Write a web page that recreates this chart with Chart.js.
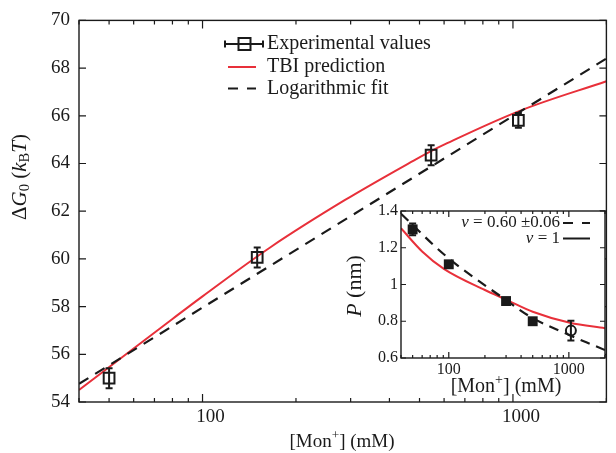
<!DOCTYPE html>
<html>
<head>
<meta charset="utf-8">
<script src="https://cdn.jsdelivr.net/npm/chart.js@4.4.1/dist/chart.umd.min.js"></script>
<style>
  html, body { margin: 0; padding: 0; background: #fff; }
  #wrap { position: relative; width: 616px; height: 453px; }
  #main { position: absolute; left: 0; top: 0; }
  #inset { position: absolute; left: 330px; top: 195px; }
</style>
</head>
<body>
<div id="wrap">
  <canvas id="main" width="616" height="453"></canvas>
  <canvas id="inset" width="286" height="215"></canvas>
</div>
<script>
// main panel: free energy vs salt
const expConc = [50, 150, 545, 1041];
const expG = [55.0, 60.06, 64.35, 65.81];
const expErr = [0.42, 0.42, 0.42, 0.31];

const tbiConc = [40, 80, 100, 166, 287, 477, 593, 1062, 2000];
const tbiG = [54.5, 57.48, 58.43, 60.5, 62.46, 64.11, 64.76, 66.23, 67.45];

const fitConc = [40, 100, 1000, 2000];
const fitG = [54.76, 57.96, 65.99, 68.4];

const xTickVals = [40, 50, 60, 70, 80, 90, 100, 200, 300, 400, 500, 600, 700, 800, 900, 1000, 2000];
const xLabelVals = [100, 1000];
const yTickVals = [54, 56, 58, 60, 62, 64, 66, 68, 70];

// inset: P vs salt
const pConc = [50, 100, 300, 500];
const pVal = [1.30, 1.11, 0.91, 0.80];
const pErr = [0.032, 0, 0, 0];
const openConc = [1040];
const openVal = [0.749];
const openErr = [0.054];

const nuFitConc = [40, 100, 300, 500, 1000, 2000];
const nuFitP = [1.385, 1.142, 0.915, 0.817, 0.726, 0.643];

const nuOneConc = [40, 60, 91, 200, 300, 500, 1020, 2000];
const nuOneP = [1.306, 1.18, 1.085, 0.97, 0.918, 0.852, 0.792, 0.762];

const insetYTicks = [0.6, 0.8, 1.0, 1.2, 1.4];

const serif = '"Liberation Serif", "DejaVu Serif", serif';
const ink = '#1a1a1a';
const red = '#e8303a';

const pts = (xs, ys) => xs.map((x, i) => ({ x: x, y: ys[i] }));

// text with italics / sub / superscripts; align 'center' or 'right' around (x, y)
function richText(ctx, parts, x, y, size, rotate, align) {
  ctx.save();
  ctx.translate(x, y);
  if (rotate) ctx.rotate(-Math.PI / 2);
  ctx.textBaseline = 'middle';
  ctx.textAlign = 'left';
  ctx.fillStyle = ink;
  const fontFor = p => (p.it ? 'italic ' : '') + ((p.sub || p.sup) ? size * 0.7 : size) + 'px ' + serif;
  let total = 0;
  parts.forEach(p => { ctx.font = fontFor(p); total += ctx.measureText(p.t).width; });
  let cx = align === 'right' ? -total : -total / 2;
  parts.forEach(p => {
    ctx.font = fontFor(p);
    const dy = p.sub ? size * 0.25 : (p.sup ? -size * 0.33 : 0);
    ctx.fillText(p.t, cx, dy);
    cx += ctx.measureText(p.t).width;
  });
  ctx.restore();
}

// box around plot area + inward ticks on all four sides
function framePlugin(xTicks, xMajors, yTicks, majLen, minLen, yLen) {
  return {
    id: 'frame',
    afterDatasetsDraw(chart) {
      const { ctx, chartArea: a, scales } = chart;
      ctx.save();
      ctx.strokeStyle = ink;
      ctx.lineWidth = 1.4;
      ctx.strokeRect(a.left, a.top, a.right - a.left, a.bottom - a.top);
      ctx.lineWidth = 1.2;
      ctx.beginPath();
      xTicks.forEach(v => {
        const px = scales.x.getPixelForValue(v);
        const l = xMajors.includes(v) ? majLen : minLen;
        ctx.moveTo(px, a.bottom); ctx.lineTo(px, a.bottom - l);
        ctx.moveTo(px, a.top); ctx.lineTo(px, a.top + l);
      });
      yTicks.forEach(v => {
        const py = scales.y.getPixelForValue(v);
        ctx.moveTo(a.left, py); ctx.lineTo(a.left + yLen, py);
        ctx.moveTo(a.right, py); ctx.lineTo(a.right - yLen, py);
      });
      ctx.stroke();
      ctx.restore();
    }
  };
}

// vertical error bars for datasets carrying an `errors` list
const errorBars = {
  id: 'errorBars',
  afterDatasetsDraw(chart) {
    const { ctx, scales } = chart;
    ctx.save();
    ctx.strokeStyle = ink;
    ctx.lineWidth = 2;
    chart.data.datasets.forEach((ds, i) => {
      if (!ds.errors) return;
      const meta = chart.getDatasetMeta(i);
      meta.data.forEach((el, j) => {
        const e = ds.errors[j];
        if (!e) return;
        const v = ds.data[j].y;
        const y1 = scales.y.getPixelForValue(v - e);
        const y2 = scales.y.getPixelForValue(v + e);
        ctx.beginPath();
        ctx.moveTo(el.x, y1); ctx.lineTo(el.x, y2);
        ctx.moveTo(el.x - 3.5, y1); ctx.lineTo(el.x + 3.5, y1);
        ctx.moveTo(el.x - 3.5, y2); ctx.lineTo(el.x + 3.5, y2);
        ctx.stroke();
      });
    });
    ctx.restore();
  }
};

const mainDecor = {
  id: 'mainDecor',
  afterDraw(chart) {
    const ctx = chart.ctx;
    const ds = chart.data.datasets;
    // legend
    ctx.save();
    ctx.strokeStyle = ink;
    ctx.lineWidth = 2;
    ctx.beginPath();
    ctx.moveTo(225, 44); ctx.lineTo(263, 44);
    ctx.moveTo(225, 40.5); ctx.lineTo(225, 47.5);
    ctx.moveTo(263, 40.5); ctx.lineTo(263, 47.5);
    ctx.stroke();
    ctx.strokeRect(238.5, 38, 12, 12);
    ctx.strokeStyle = ds[1].borderColor;
    ctx.beginPath(); ctx.moveTo(228, 67); ctx.lineTo(256, 67); ctx.stroke();
    ctx.strokeStyle = ds[2].borderColor;
    ctx.lineWidth = 2.2;
    ctx.beginPath();
    ctx.moveTo(228, 88.5); ctx.lineTo(238, 88.5);
    ctx.moveTo(247, 88.5); ctx.lineTo(256, 88.5);
    ctx.stroke();
    ctx.fillStyle = ink;
    ctx.font = '20px ' + serif;
    ctx.textBaseline = 'middle';
    ctx.fillText(ds[0].label, 267, 44);
    ctx.fillText(ds[1].label, 267, 66.5);
    ctx.fillText(ds[2].label, 267, 88.5);
    ctx.restore();
    // axis titles
    richText(ctx, [{ t: 'Δ' }, { t: 'G', it: 1 }, { t: '0', sub: 1 }, { t: ' (' }, { t: 'k', it: 1 },
      { t: 'B', sub: 1 }, { t: 'T', it: 1 }, { t: ')' }], 20, 177, 21, true);
    richText(ctx, [{ t: '[Mon' }, { t: '+', sup: 1 }, { t: '] (mM)' }], 342, 442, 19, false);
  }
};

new Chart(document.getElementById('main'), {
  type: 'line',
  data: {
    datasets: [
      {
        label: 'Experimental values', data: pts(expConc, expG), errors: expErr,
        showLine: false, pointStyle: 'rect', pointRadius: 7.6, borderWidth: 2,
        borderColor: ink, backgroundColor: 'rgba(0,0,0,0)', order: 0
      },
      {
        label: 'TBI prediction', data: pts(tbiConc, tbiG),
        borderColor: red, borderWidth: 2, pointRadius: 0, tension: 0.35, order: 2
      },
      {
        label: 'Logarithmic fit', data: pts(fitConc, fitG),
        borderColor: ink, borderWidth: 2.2, borderDash: [11, 8], pointRadius: 0, order: 1
      }
    ]
  },
  options: {
    responsive: false,
    animation: false,
    layout: { padding: { top: 20, right: 1, left: 0, bottom: 0 } },
    plugins: { legend: { display: false }, tooltip: { enabled: false } },
    scales: {
      x: {
        type: 'logarithmic', min: 40, max: 2000,
        grid: { display: false, drawTicks: false }, border: { display: false },
        afterBuildTicks: s => { s.ticks = xTickVals.map(v => ({ value: v })); },
        afterFit: s => { s.height = 51; },
        ticks: {
          autoSkip: false, maxRotation: 0, padding: 4, labelOffset: 8, color: ink,
          font: { family: serif, size: 19 },
          callback: v => xLabelVals.includes(v) ? String(v) : ''
        }
      },
      y: {
        min: 54, max: 70,
        grid: { display: false, drawTicks: false }, border: { display: false },
        afterFit: s => { s.width = 79; },
        ticks: { stepSize: 2, padding: 9, color: ink, font: { family: serif, size: 19 } }
      }
    }
  },
  plugins: [framePlugin(xTickVals, xLabelVals, yTickVals, 8, 4, 7), errorBars, mainDecor]
});

// white plot background so the inset hides what is behind it
const insetBg = {
  id: 'insetBg',
  beforeDraw(chart) {
    const { ctx, chartArea: a } = chart;
    ctx.save();
    ctx.fillStyle = '#fff';
    ctx.fillRect(a.left, a.top, a.right - a.left, a.bottom - a.top);
    ctx.restore();
  }
};

const insetDecor = {
  id: 'insetDecor',
  afterDraw(chart) {
    const ctx = chart.ctx;
    richText(ctx, [{ t: 'ν', it: 1 }, { t: ' = 0.60 ±0.06' }], 230, 28, 17, false, 'right');
    richText(ctx, [{ t: 'ν', it: 1 }, { t: ' = 1' }], 230, 43.5, 17, false, 'right');
    ctx.save();
    ctx.strokeStyle = ink;
    ctx.lineWidth = 2.2;
    ctx.beginPath();
    ctx.moveTo(233, 28); ctx.lineTo(243, 28);
    ctx.moveTo(252, 28); ctx.lineTo(260, 28);
    ctx.moveTo(233, 43.5); ctx.lineTo(260, 43.5);
    ctx.stroke();
    ctx.restore();
    richText(ctx, [{ t: 'P', it: 1 }, { t: ' (nm)' }], 25, 91, 22, true);
    richText(ctx, [{ t: '[Mon' }, { t: '+', sup: 1 }, { t: '] (mM)' }], 176, 192, 20, false);
  }
};

new Chart(document.getElementById('inset'), {
  type: 'line',
  data: {
    datasets: [
      {
        label: 'salt series', data: pts(pConc, pVal), errors: pErr,
        showLine: false, pointStyle: 'rect', pointRadius: 7, borderWidth: 0,
        backgroundColor: ink, borderColor: ink, order: 0
      },
      {
        label: 'high salt', data: pts(openConc, openVal), errors: openErr,
        showLine: false, pointStyle: 'circle', pointRadius: 5, borderWidth: 2,
        backgroundColor: 'rgba(0,0,0,0)', borderColor: ink, order: 0
      },
      {
        label: 'ν = 0.60 ±0.06', data: pts(nuFitConc, nuFitP),
        borderColor: ink, borderWidth: 2.2, borderDash: [10, 7], pointRadius: 0,
        tension: 0.35, order: 1
      },
      {
        label: 'ν = 1', data: pts(nuOneConc, nuOneP),
        borderColor: red, borderWidth: 2, pointRadius: 0, cubicInterpolationMode: 'monotone', order: 2
      }
    ]
  },
  options: {
    responsive: false,
    animation: false,
    layout: { padding: { top: 16, right: 11, left: 0, bottom: 0 } },
    plugins: { legend: { display: false }, tooltip: { enabled: false } },
    scales: {
      x: {
        type: 'logarithmic', min: 40, max: 2000,
        grid: { display: false, drawTicks: false }, border: { display: false },
        afterBuildTicks: s => { s.ticks = xTickVals.map(v => ({ value: v })); },
        afterFit: s => { s.height = 52; },
        ticks: {
          autoSkip: false, maxRotation: 0, padding: 2, color: ink,
          font: { family: serif, size: 16 },
          callback: v => xLabelVals.includes(v) ? String(v) : ''
        }
      },
      y: {
        min: 0.6, max: 1.4,
        grid: { display: false, drawTicks: false }, border: { display: false },
        afterFit: s => { s.width = 71; },
        afterBuildTicks: s => { s.ticks = insetYTicks.map(v => ({ value: v })); },
        ticks: {
          padding: 3, color: ink, font: { family: serif, size: 16 },
          callback: v => v === 1 ? '1' : v.toFixed(1)
        }
      }
    }
  },
  plugins: [insetBg, framePlugin(xTickVals, xLabelVals, insetYTicks, 6, 3, 5), errorBars, insetDecor]
});
</script>
</body>
</html>
